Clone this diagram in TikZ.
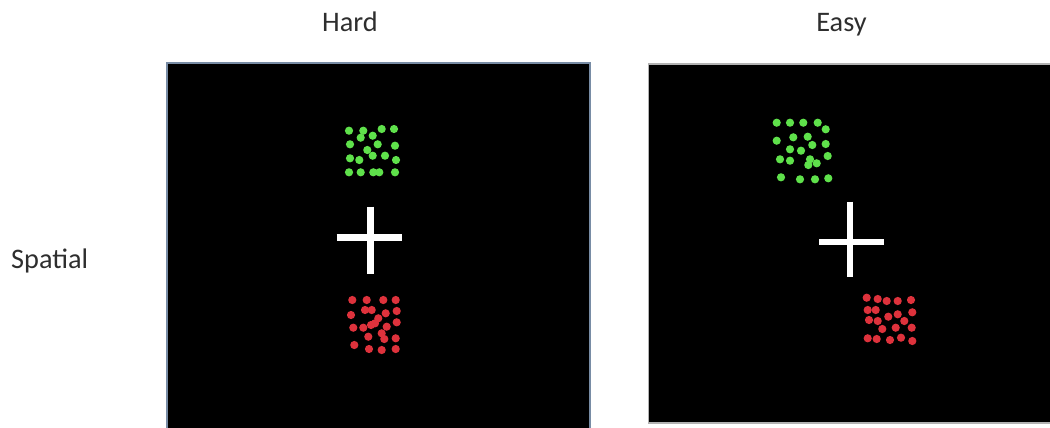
\documentclass[tikz,border=0pt]{standalone}
\usepackage{fontspec}
\setmainfont{Carlito}
\definecolor{dotgreen}{RGB}{95,225,75}
\definecolor{dotred}{RGB}{222,50,60}
\definecolor{frameblue}{RGB}{120,140,165}
\tikzset{
  label text/.style={font=\fontsize{28.3}{30}\selectfont, text=black!82, inner sep=0pt},
  panel/.style={fill=black, draw=frameblue, line width=1.2},
  crossbar/.style={white, line width=6.8},
  gdot/.style={fill=dotgreen},
  rdot/.style={fill=dotred}
}
\begin{document}
\begin{tikzpicture}[x=1pt,y=-1pt]
\useasboundingbox (0,0) rectangle (1050,428);
% titles
\node[label text, anchor=base] (hard) at (350,32) {Hard};
\node[label text, anchor=base] (easy) at (841.5,31.7) {Easy};
\node[label text, anchor=base west] (spatial) at (11,268.3) {Spatial};
% panels
\draw[panel] (167,63) rectangle (590,429);
\draw[panel, draw=black!30] (648.5,64) rectangle (1051,423);
% crosses
\draw[crossbar] (336.7,237.7) -- (402.3,237.7);
\draw[crossbar] (370.3,206.7) -- (370.3,274.3);
\draw[crossbar] (819,242) -- (884,242);
\draw[crossbar] (850,201.7) -- (850,276.7);
% hard green
\foreach \x/\y in {349/130.7,363.3/130.7,360.7/137.7,372.7/135.7,381.7/129,394/129,
  350/144.3,377.7/144.3,395/145.7,367.3/150,372.7/155.7,350/158.3,359.3/160,385/155.7,396/160,
  349/172.3,360.7/172.3,373.3/172.3,379.3/172.3,395/172.3}
  \fill[gdot] (\x,\y) circle (4.1);
% hard red
\foreach \x/\y in {352.3/300,366.7/300,383.3/300,395.7/300,365/310,371.7/310,385.7/313.3,396.7/311,
  351/315,378.3/318.3,375/323.3,371/325,396.7/322.3,353.3/327.7,363.3/327.7,386.7/326.7,
  381.7/333.3,368.3/336.7,384.3/339,395.7/338.3,354.3/345,369/349,381.7/350,395.7/349}
  \fill[rdot] (\x,\y) circle (4.1);
% easy green
\foreach \x/\y in {776.7/122.7,790/122.7,803.3/122.7,817.7/122.7,825.7/129.3,776.7/140.7,
  793.3/137.3,807.7/136.7,812.3/145,825.7/144,790/149.3,801/150.7,827.7/156,780/159.3,
  790/160.7,810/159.3,808.3/165,816.7/163.3,781/177.3,800/179.3,815/179.3,828.3/178.3}
  \fill[gdot] (\x,\y) circle (4.1);
% easy red
\foreach \x/\y in {866.7/297.7,877.7/299,886.7/301,897.7/301,911/300,867.7/310,875.7/310,
  888.3/316.7,897.7/314.3,912.3/312.3,869/320,877.7/321,904.3/321,882.3/329,895.7/327.7,
  911.7/327.7,867.7/338.3,876.7/339,890/340,901/337.7,912.3/341}
  \fill[rdot] (\x,\y) circle (4.1);
\end{tikzpicture}
\end{document}
